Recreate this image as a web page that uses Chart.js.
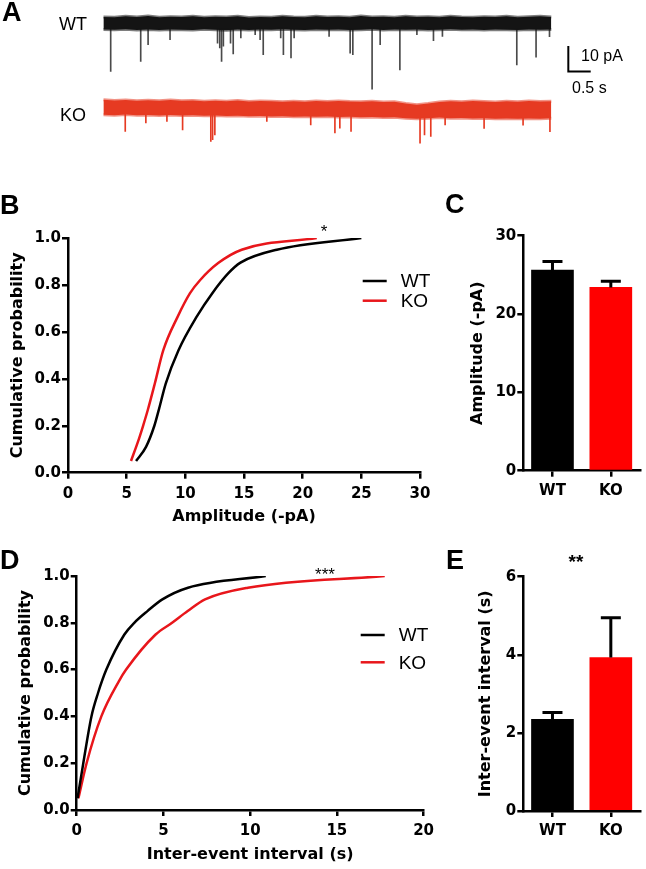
<!DOCTYPE html>
<html>
<head>
<meta charset="utf-8">
<script src="https://cdn.jsdelivr.net/npm/chart.js@4.4.1/dist/chart.umd.min.js"></script>
<style>
  body { margin: 0; background: #fff; }
  #fig { position: relative; width: 646px; height: 869px; overflow: hidden; background: #fff; }
  #fig canvas { position: absolute; }
  .t { position: absolute; white-space: nowrap; font-family: "Liberation Sans", Arial, sans-serif; color: #000; }
  .letter { font-size: 27px; line-height: 27px; font-weight: bold; }
</style>
</head>
<body>
<div id="fig">
  <canvas id="traceA" width="646" height="150" style="left:0;top:0"></canvas>
  <canvas id="chartB" width="440" height="330" style="left:0;top:200px"></canvas>
  <canvas id="chartC" width="206" height="330" style="left:440px;top:200px"></canvas>
  <canvas id="chartD" width="440" height="339" style="left:0;top:530px"></canvas>
  <canvas id="chartE" width="206" height="339" style="left:440px;top:530px"></canvas>

  <div class="t letter" style="left:2px;top:-1px">A</div>
  <div class="t letter" style="left:0;top:192px">B</div>
  <div class="t letter" style="left:445px;top:191px">C</div>
  <div class="t letter" style="left:0;top:547px">D</div>
  <div class="t letter" style="left:446px;top:547px">E</div>

  <div class="t" style="left:59px;top:15px;font-size:18px;line-height:18px">WT</div>
  <div class="t" style="left:60px;top:106px;font-size:18px;line-height:18px">KO</div>
  <div class="t" style="left:581px;top:48px;font-size:16px;line-height:16px">10 pA</div>
  <div class="t" style="left:572px;top:80px;font-size:16px;line-height:16px">0.5 s</div>

  <div class="t" style="left:304px;top:223px;width:40px;text-align:center;font-size:17px;line-height:17px">*</div>
  <div class="t" style="left:305px;top:566px;width:40px;text-align:center;font-size:17px;line-height:17px">***</div>
  <div class="t" style="left:556px;top:552px;width:40px;text-align:center;font-size:19px;line-height:19px;font-weight:bold">**</div>
</div>

<script>
// ---- A: example traces (time in s, current in pA) ----
var traceTime = [0, 0.25, 0.5, 0.75, 1, 1.25, 1.5, 1.75, 2, 2.25, 2.5, 2.75, 3, 3.25, 3.5, 3.75, 4, 4.25, 4.5, 4.75,
  5, 5.25, 5.5, 5.75, 6, 6.25, 6.5, 6.75, 7, 7.25, 7.5, 7.75, 8, 8.25, 8.5, 8.75, 9, 9.25, 9.5, 9.75, 10];
var wtUpper = [2.5, 2.4, 2.7, 2.5, 2.8, 2.4, 2.6, 2.5, 2.7, 2.4, 2.6, 2.5, 2.7, 2.3, 2.5, 2.4, 2.7, 2.5, 2.4, 2.7,
  2.5, 2.6, 2.4, 2.8, 2.5, 2.6, 2.4, 2.7, 2.5, 2.6, 2.4, 2.7, 2.5, 2.4, 2.6, 2.5, 2.7, 2.4, 2.6, 2.7, 2.5];
var wtLower = [-2.4, -2.5, -2.3, -2.6, -2.4, -2.6, -2.4, -2.5, -2.6, -2.3, -2.5, -2.7, -2.4, -2.6, -2.4, -2.5, -2.3, -2.5, -2.6, -2.4,
  -2.5, -2.4, -2.6, -2.5, -2.3, -2.6, -2.4, -2.5, -2.4, -2.6, -2.5, -2.3, -2.5, -2.4, -2.6, -2.4, -2.5, -2.6, -2.4, -2.5, -2.4];
var koUpper = [3.7, 3.4, 3.6, 3.3, 3.5, 3.3, 3.6, 3.3, 3.4, 3.1, 3.3, 3.1, 3.4, 3.0, 3.2, 3.1, 2.9, 3.1, 2.9, 3.2,
  3.0, 3.2, 3.0, 2.9, 3.1, 2.8, 2.9, 2.2, 1.7, 2.2, 2.8, 3.1, 2.9, 3.2, 3.0, 2.8, 3.1, 2.9, 3.2, 3.0, 3.1];
var koLower = [-2.2, -2.4, -2.1, -2.4, -2.3, -2.5, -2.3, -2.5, -2.4, -2.6, -2.5, -2.7, -2.6, -2.8, -2.7, -2.9, -2.8, -3.0, -2.9, -3.0,
  -2.9, -3.1, -3.0, -3.2, -3.1, -3.3, -3.2, -3.5, -3.7, -3.5, -3.3, -3.5, -3.4, -3.6, -3.5, -3.7, -3.6, -3.7, -3.6, -3.7, -3.5];
var koOffset = -33.4; // KO trace drawn below WT

var wtEventTime = [0.165, 0.835, 1.00, 1.49, 2.55, 2.60, 2.64, 2.68, 2.84, 2.90, 3.07, 3.39, 3.50, 3.57, 3.96,
  4.02, 4.19, 4.26, 5.04, 5.51, 5.57, 6.00, 6.18, 6.62, 7.00, 7.37, 7.57, 9.23, 9.66, 9.96];
var wtEventAmp = [-18.7, -14.8, -8.3, -6.4, -7.7, -9.6, -14.8, -8.9, -7.7, -11.9, -5.7, -4.4, -6.4, -12.2, -5.7,
  -12.2, -13.5, -5.7, -5.1, -11.6, -12.2, -25.6, -8.3, -18.1, -4.4, -6.8, -5.1, -16.2, -13.2, -5.2];
var koEventTime = [0.49, 0.95, 1.42, 1.77, 2.40, 2.44, 2.49, 3.65, 4.63, 5.17, 5.28, 5.53, 7.07, 7.17, 7.31, 7.63, 8.50, 9.37, 9.97];
var koEventAmp = [-8.7, -5.4, -4.8, -8.1, -12.6, -11.9, -10.0, -4.8, -6.1, -9.3, -7.4, -8.7, -13.2, -10.0, -10.6, -6.1, -7.5, -6.2, -8.8];

var scaleBarTime = [10.38, 10.38, 10.88];
var scaleBarAmp = [-8.8, -18.8, -18.8];

// ---- B: cumulative amplitude ----
var bWtAmp = [5.8, 6.65, 7.36, 7.75, 8.33, 9.4, 10.97, 12.3, 13.67, 14.7, 17.8, 25.0];
var bWtProb = [0.05, 0.11, 0.2, 0.27, 0.38, 0.52, 0.665, 0.765, 0.85, 0.895, 0.95, 1.0];
var bKoAmp = [5.37, 5.95, 6.4, 6.8, 7.4, 8.13, 9.35, 10.4, 11.25, 12.8, 14.8, 21.2];
var bKoProb = [0.05, 0.13, 0.2, 0.267, 0.38, 0.523, 0.665, 0.765, 0.82, 0.893, 0.95, 1.0];

// ---- C: mean amplitude ----
var groups = ["WT", "KO"];
var cMean = [25.6, 23.4];
var cSem = [1.1, 0.8];

// ---- D: cumulative inter-event interval ----
var dWtIei = [0.05, 0.38, 0.85, 1.23, 1.71, 2.75, 3.32, 4.08, 4.94, 6.42, 10.9];
var dWtProb = [0.05, 0.2, 0.4, 0.5, 0.6, 0.75, 0.8, 0.85, 0.9, 0.95, 1.0];
var dKoIei = [0.1, 0.57, 1.42, 2.43, 2.85, 4.55, 5.5, 6.4, 7.4, 9.87, 17.76];
var dKoProb = [0.05, 0.2, 0.4, 0.55, 0.6, 0.75, 0.8, 0.85, 0.9, 0.95, 1.0];

// ---- E: mean inter-event interval ----
var eMean = [2.35, 3.93];
var eSem = [0.17, 1.02];

var black = "#000000";
var red = "#e8161b";
var traceRed = "#e63a22";
var barRed = "#ff0000";

Chart.defaults.animation = false;
Chart.defaults.font.family = '"DejaVu Sans", sans-serif';
Chart.defaults.color = "#000";

function pts(xs, ys, shift) {
  return xs.map(function (x, i) { return { x: x, y: ys[i] + (shift || 0) }; });
}
function spikes(ts, amps, base) {
  return ts.map(function (t, i) { return { x: t, y: [amps[i] + base, base] }; });
}

// legend with short line segments, drawn next to the curves
var lineLegend = {
  id: "lineLegend",
  afterDraw: function (chart, args, opts) {
    var ctx = chart.ctx;
    ctx.save();
    ctx.font = '19px "Liberation Sans", Arial, sans-serif';
    ctx.textBaseline = "middle";
    chart.data.datasets.forEach(function (ds, i) {
      var y = opts.y + i * opts.gap;
      ctx.strokeStyle = ds.borderColor;
      ctx.lineWidth = 2.5;
      ctx.beginPath();
      ctx.moveTo(opts.x, y);
      ctx.lineTo(opts.x + 24, y);
      ctx.stroke();
      ctx.fillStyle = "#000";
      ctx.fillText(ds.label, opts.x + 38, y + 1);
    });
    ctx.restore();
  }
};

// one-sided SEM bars on top of the columns
var errorBars = {
  id: "errorBars",
  afterDatasetsDraw: function (chart, args, opts) {
    var ctx = chart.ctx;
    var yScale = chart.scales.y;
    var meta = chart.getDatasetMeta(0);
    ctx.save();
    ctx.strokeStyle = "#000";
    ctx.lineWidth = 3;
    meta.data.forEach(function (bar, i) {
      var top = yScale.getPixelForValue(opts.mean[i] + opts.err[i]);
      ctx.beginPath();
      ctx.moveTo(bar.x, bar.y);
      ctx.lineTo(bar.x, top);
      ctx.moveTo(bar.x - 10, top);
      ctx.lineTo(bar.x + 10, top);
      ctx.stroke();
    });
    ctx.restore();
  }
};

function axis(opts) {
  var a = {
    type: opts.type || "linear",
    min: opts.min,
    max: opts.max,
    offset: opts.type === "category",
    grid: { display: true, drawOnChartArea: false, drawTicks: true, tickLength: 6, color: "#000", lineWidth: 2.5, offset: false },
    border: { display: true, color: "#000", width: 2.5 },
    ticks: { font: { size: 15, weight: "bold" }, padding: opts.tickPad, color: "#000" },
    title: { display: !!opts.title, text: opts.title, font: { size: 16, weight: "bold" }, color: "#000", padding: opts.titlePad },
    afterFit: opts.fit
  };
  if (opts.step) a.ticks.stepSize = opts.step;
  if (opts.fmt) a.ticks.callback = opts.fmt;
  if (opts.type === "category") a.labels = opts.labels;
  return a;
}

function band(xs, ys, shift, color, halo, fill) {
  return { type: "line", data: pts(xs, ys, shift), borderColor: halo, backgroundColor: color,
    borderWidth: 3, pointRadius: 0, fill: fill };
}

// ---- A ----
new Chart(document.getElementById("traceA"), {
  type: "scatter",
  data: {
    datasets: [
      band(traceTime, wtLower, 0, "#141414", "rgba(20,20,20,0.55)", false),
      band(traceTime, wtUpper, 0, "#141414", "rgba(20,20,20,0.55)", "-1"),
      band(traceTime, koLower, koOffset, traceRed, "rgba(230,58,34,0.55)", false),
      band(traceTime, koUpper, koOffset, traceRed, "rgba(230,58,34,0.55)", "-1"),
      { type: "bar", data: spikes(wtEventTime, wtEventAmp, 0), backgroundColor: "#4a4a4a", barThickness: 1, grouped: false },
      { type: "bar", data: spikes(koEventTime, koEventAmp, koOffset), backgroundColor: traceRed, barThickness: 1, grouped: false },
      { type: "line", data: pts(scaleBarTime, scaleBarAmp), borderColor: "#000", borderWidth: 2, pointRadius: 0, fill: false }
    ]
  },
  options: {
    responsive: false,
    layout: { padding: { left: 103.3, right: 0, top: 0, bottom: 0 } },
    plugins: { legend: { display: false }, tooltip: { enabled: false } },
    scales: {
      x: { type: "linear", display: false, min: 0, max: 12.114, offset: false },
      y: { type: "linear", display: false, min: -49.3, max: 9.07 }
    }
  }
});

// ---- B ----
new Chart(document.getElementById("chartB"), {
  type: "scatter",
  data: {
    datasets: [
      { label: "WT", data: pts(bWtAmp, bWtProb), showLine: true, borderColor: black, borderWidth: 2.5, pointRadius: 0, cubicInterpolationMode: "monotone" },
      { label: "KO", data: pts(bKoAmp, bKoProb), showLine: true, borderColor: red, borderWidth: 2.5, pointRadius: 0, cubicInterpolationMode: "monotone" }
    ]
  },
  options: {
    responsive: false,
    layout: { padding: { left: 0, right: 20, top: 38, bottom: 0 } },
    plugins: { legend: { display: false }, tooltip: { enabled: false }, lineLegend: { x: 362.7, y: 81, gap: 19.7 } },
    scales: {
      x: axis({ min: 0, max: 30, step: 5, tickPad: 6, title: "Amplitude (-pA)", titlePad: { top: 0, bottom: 3.7 },
        fit: function (s) { s.height = 57.3; } }),
      y: axis({ min: 0, max: 1, step: 0.2, tickPad: 1, title: "Cumulative probability", titlePad: { top: 8.4, bottom: 0 },
        fmt: function (v) { return v.toFixed(1); }, fit: function (s) { s.width = 68; } })
    }
  },
  plugins: [lineLegend]
});

// ---- C ----
new Chart(document.getElementById("chartC"), {
  type: "bar",
  data: {
    labels: groups,
    datasets: [{ data: cMean, backgroundColor: [black, barRed], barThickness: 42 }]
  },
  options: {
    responsive: false,
    layout: { padding: { left: 0, right: 6, top: 35.7, bottom: 0 } },
    plugins: { legend: { display: false }, tooltip: { enabled: false }, errorBars: { mean: cMean, err: cSem } },
    scales: {
      x: axis({ type: "category", labels: groups, tickPad: 5, fit: function (s) { s.height = 59.3; } }),
      y: axis({ min: 0, max: 30, step: 10, tickPad: 1, title: "Amplitude (-pA)", titlePad: { top: 28.7, bottom: 0 },
        fit: function (s) { s.width = 83.3; } })
    }
  },
  plugins: [errorBars]
});

// ---- D ----
new Chart(document.getElementById("chartD"), {
  type: "scatter",
  data: {
    datasets: [
      { label: "WT", data: pts(dWtIei, dWtProb), showLine: true, borderColor: black, borderWidth: 2.5, pointRadius: 0, cubicInterpolationMode: "monotone" },
      { label: "KO", data: pts(dKoIei, dKoProb), showLine: true, borderColor: red, borderWidth: 2.5, pointRadius: 0, cubicInterpolationMode: "monotone" }
    ]
  },
  options: {
    responsive: false,
    layout: { padding: { left: 0, right: 12.3, top: 46, bottom: 0 } },
    plugins: { legend: { display: false }, tooltip: { enabled: false }, lineLegend: { x: 360.7, y: 105, gap: 27.3 } },
    scales: {
      x: axis({ min: 0, max: 20, step: 5, tickPad: 6, title: "Inter-event interval (s)", titlePad: { top: 0, bottom: 4.4 },
        fit: function (s) { s.height = 59; } }),
      y: axis({ min: 0, max: 1, step: 0.2, tickPad: 1, title: "Cumulative probability", titlePad: { top: 16.1, bottom: 0 },
        fmt: function (v) { return v.toFixed(1); }, fit: function (s) { s.width = 76.7; } })
    }
  },
  plugins: [lineLegend]
});

// ---- E ----
new Chart(document.getElementById("chartE"), {
  type: "bar",
  data: {
    labels: groups,
    datasets: [{ data: eMean, backgroundColor: [black, barRed], barThickness: 42 }]
  },
  options: {
    responsive: false,
    layout: { padding: { left: 0, right: 6, top: 46.7, bottom: 0 } },
    plugins: { legend: { display: false }, tooltip: { enabled: false }, errorBars: { mean: eMean, err: eSem } },
    scales: {
      x: axis({ type: "category", labels: groups, tickPad: 5, fit: function (s) { s.height = 58; } }),
      y: axis({ min: 0, max: 6, step: 2, tickPad: 1, title: "Inter-event interval (s)", titlePad: { top: 36.1, bottom: 0 },
        fit: function (s) { s.width = 83.3; } })
    }
  },
  plugins: [errorBars]
});
</script>
</body>
</html>
